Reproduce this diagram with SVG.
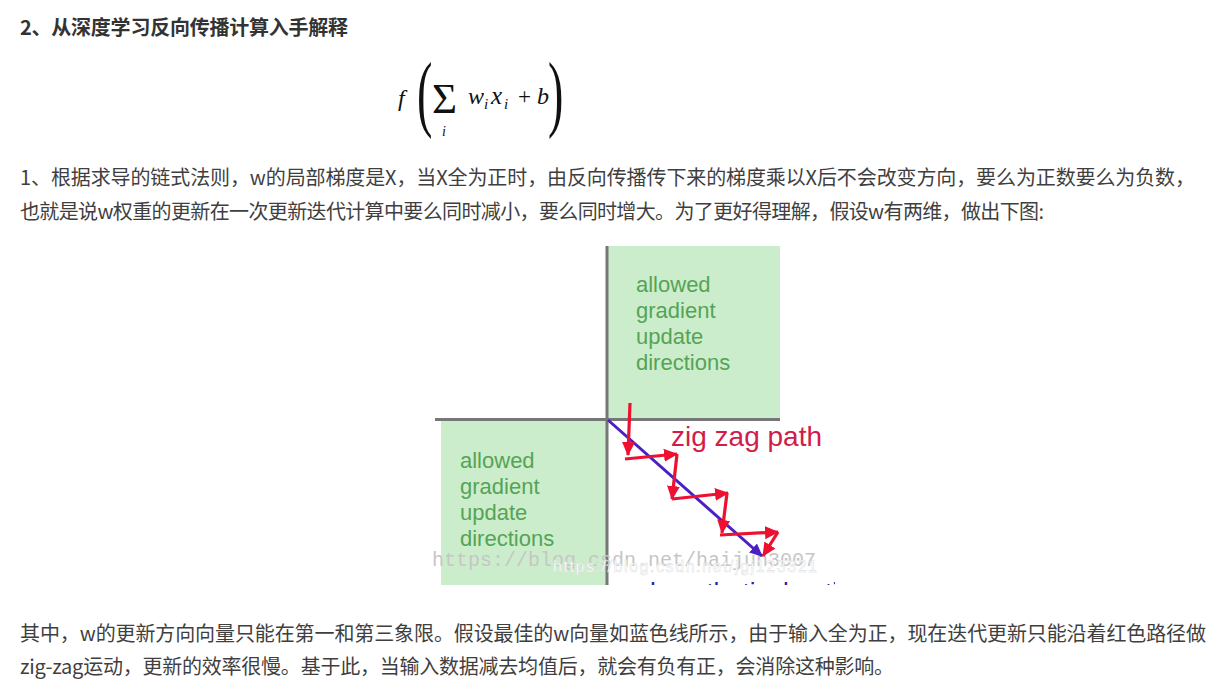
<svg xmlns="http://www.w3.org/2000/svg" width="1220" height="690" viewBox="0 0 1220 690">
<style>
.title{font-family:"Noto Sans CJK SC","Liberation Sans",sans-serif;font-size:20px;font-weight:bold;fill:#333}
.body{font-family:"Noto Sans CJK SC","Liberation Sans",sans-serif;font-size:20px;fill:#3f3f3f}
.m{font-family:"Liberation Serif",serif;fill:#111}
.mi{font-family:"Liberation Serif",serif;font-style:italic;fill:#111}
.green{fill:#ccedcc}
.glabel{font-family:"Liberation Sans",Arial,sans-serif;font-size:22px;fill:#55a455}
.axis{stroke:#777;stroke-width:3;fill:none}
.red{stroke:#ee1030;stroke-width:3.2;fill:none;marker-end:url(#ah-red)}
.blue{stroke:#4a20c4;stroke-width:3;fill:none;marker-end:url(#ah-blue)}
</style>
<defs>
<marker id="ah-red" markerUnits="userSpaceOnUse" markerWidth="15" markerHeight="15" viewBox="0 0 15 15" refX="13" refY="7.5" orient="auto">
<path d="M0,1 L14,7.5 L0,14 Z" fill="#ee1030"/>
</marker>
<marker id="ah-blue" markerUnits="userSpaceOnUse" markerWidth="14" markerHeight="14" viewBox="0 0 14 14" refX="12" refY="7" orient="auto">
<path d="M0,1 L13,7 L0,13 Z" fill="#4a20c4"/>
</marker>
<clipPath id="imgclip"><rect x="405" y="244" width="430" height="341"/></clipPath>
</defs>
<rect width="1220" height="690" fill="#fff"/>

<g id="title"><text class="title" x="20" y="35" textLength="328" lengthAdjust="spacing">2、从深度学习反向传播计算入手解释</text></g>

<g id="formula">
<text class="mi" x="398" y="106" font-size="24">f</text>
<text class="m" font-size="84" transform="translate(417,121) scale(0.55,1)">(</text>
<text class="m" x="432" y="113" font-size="43">Σ</text>
<text class="mi" x="442" y="136" font-size="14">i</text>
<text class="mi" x="468" y="104" font-size="24">w</text>
<text class="mi" x="484" y="109" font-size="15">i</text>
<text class="mi" x="491" y="104" font-size="25">x</text>
<text class="mi" x="504" y="109" font-size="15">i</text>
<text class="m" x="518" y="104" font-size="23">+</text>
<text class="mi" x="537" y="104" font-size="24">b</text>
<text class="m" font-size="84" transform="translate(548,121) scale(0.55,1)">)</text>
</g>

<g id="para1">
<text class="body" x="20" y="185" textLength="1175" lengthAdjust="spacing">1、根据求导的链式法则，w的局部梯度是X，当X全为正时，由反向传播传下来的梯度乘以X后不会改变方向，要么为正数要么为负数，</text>
<text class="body" x="20" y="219" textLength="1024" lengthAdjust="spacing">也就是说w权重的更新在一次更新迭代计算中要么同时减小，要么同时增大。为了更好得理解，假设w有两维，做出下图:</text>
</g>

<g id="figure" clip-path="url(#imgclip)">
<g id="quadrant1">
<rect class="green" x="608" y="246" width="172" height="172"/>
<text class="glabel" x="636" y="292">allowed</text>
<text class="glabel" x="636" y="318">gradient</text>
<text class="glabel" x="636" y="344">update</text>
<text class="glabel" x="636" y="370">directions</text>
</g>
<g id="quadrant3">
<rect class="green" x="441" y="421" width="165" height="170"/>
<text class="glabel" x="460" y="468">allowed</text>
<text class="glabel" x="460" y="494">gradient</text>
<text class="glabel" x="460" y="520">update</text>
<text class="glabel" x="460" y="546">directions</text>
</g>
<g id="axes">
<line class="axis" x1="435" y1="419.5" x2="780" y2="419.5"/>
<line class="axis" x1="607" y1="246" x2="607" y2="590"/>
</g>
<g id="zigzag-label"><text x="671" y="446" font-family="Liberation Sans,Arial,sans-serif" font-size="28" fill="#d11c48">zig zag path</text></g>
<g id="optimal-label"><text x="650" y="601" font-family="Liberation Sans,Arial,sans-serif" font-size="26" fill="#2a1f9a">hypothetical optimal w vector</text></g>
<text x="432" y="566" font-family="Liberation Mono,monospace" font-size="20" fill="#c6c6c6">https://blog.csdn.net/haijun3007</text>
<g id="connectors">
<line class="blue" x1="608" y1="420" x2="762" y2="556"/>
<line class="red" x1="630" y1="403" x2="628" y2="455"/>
<line class="red" x1="625" y1="459" x2="677" y2="454"/>
<line class="red" x1="677" y1="454" x2="672" y2="499"/>
<line class="red" x1="672" y1="499" x2="728" y2="493"/>
<line class="red" x1="727" y1="493" x2="722" y2="533"/>
<line class="red" x1="720" y1="535" x2="778" y2="532"/>
<line class="red" x1="778" y1="532" x2="763" y2="556"/>
</g>
<text x="553" y="572" font-family="Liberation Sans,Arial,sans-serif" font-size="16" fill="#ffffff" stroke="#d8d8d8" stroke-width="0.4" textLength="264" lengthAdjust="spacing">https://blog.csdn.net/jgj123321</text>
</g>

<g id="para2">
<text class="body" x="20" y="641" textLength="1186" lengthAdjust="spacing">其中，w的更新方向向量只能在第一和第三象限。假设最佳的w向量如蓝色线所示，由于输入全为正，现在迭代更新只能沿着红色路径做</text>
<text class="body" x="20" y="674" textLength="874" lengthAdjust="spacing">zig-zag运动，更新的效率很慢。基于此，当输入数据减去均值后，就会有负有正，会消除这种影响。</text>
</g>
</svg>
